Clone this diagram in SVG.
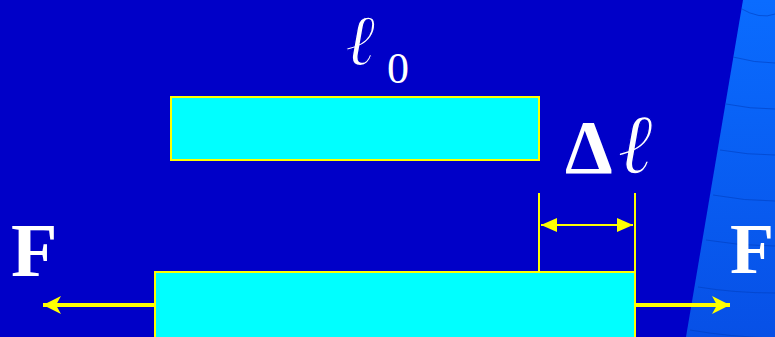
<svg xmlns="http://www.w3.org/2000/svg" width="775" height="337" viewBox="0 0 775 337">
<defs>
<linearGradient id="side" x1="0" y1="0" x2="0" y2="1">
<stop offset="0" stop-color="#0A6CFF"/>
<stop offset="1" stop-color="#0750E6"/>
</linearGradient>
<clipPath id="sideClip"><path d="M743,0 L775,0 L775,337 L686,337 Z"/></clipPath>
<marker id="ah" viewBox="0 0 16 14" refX="16" refY="7" markerWidth="16" markerHeight="14" markerUnits="userSpaceOnUse" orient="auto-start-reverse">
<path d="M0,0 L16,7 L0,14 Z" fill="#FFFF00"/>
</marker>
<marker id="ah2" viewBox="0 0 18 18" refX="18" refY="9" markerWidth="18" markerHeight="18" markerUnits="userSpaceOnUse" orient="auto">
<path d="M0,0 L18,9 L0,18 L5,9 Z" fill="#FFFF00"/>
</marker>
<style>
.bar{fill:#00FFFF;stroke:#FFFF00;stroke-width:2}
.ln{stroke:#FFFF00;stroke-width:2;fill:none}
.arr{stroke:#FFFF00;stroke-width:4;fill:none}
.big{font-family:"Liberation Serif","Times New Roman",serif;fill:#FFFFFF}
.ell{font-family:"Liberation Serif","Times New Roman",serif;font-style:italic;fill:#FFFFFF;stroke:#0000C8;stroke-width:1.3}
.arc{stroke:#0040C0;stroke-width:1;fill:none;opacity:0.6}
</style>
</defs>
<rect width="775" height="337" fill="#0000C8"/>
<g id="side-panel">
<path d="M743,0 L775,0 L775,337 L686,337 Z" fill="url(#side)"/>
<g clip-path="url(#sideClip)">
<path class="arc" d="M740,8 Q760,20 775,14"/>
<path class="arc" d="M733,57 Q755,63 775,63"/>
<path class="arc" d="M726,104 Q750,109 775,109"/>
<path class="arc" d="M720,150 Q748,155 775,155"/>
<path class="arc" d="M713,195 Q745,201 775,201"/>
<path class="arc" d="M706,240 Q740,246 775,246"/>
<path class="arc" d="M698,287 Q735,293 775,293"/>
<path class="arc" d="M690,330 Q730,337 775,338"/>
</g>
</g>
<g id="bar-original">
<rect class="bar" x="171" y="97" width="368" height="63"/>
</g>
<g id="bar-stretched">
<rect class="bar" x="155" y="272" width="480" height="70"/>
</g>
<g id="label-l0">
<text class="ell" x="345" y="65" font-size="72">ℓ</text>
<text class="big" x="387" y="83" font-size="44">0</text>
</g>
<g id="label-dl">
<text class="big" x="565" y="173" font-size="76" font-weight="bold">Δ</text>
<text class="ell" x="617" y="173" font-size="85">ℓ</text>
</g>
<g id="label-F-left">
<text class="big" x="11" y="276" font-size="76" font-weight="bold">F</text>
</g>
<g id="label-F-right">
<text class="big" x="730" y="273" font-size="72" font-weight="bold">F</text>
</g>
<g id="connectors">
<line class="ln" x1="539" y1="193" x2="539" y2="272"/>
<line class="ln" x1="635" y1="193" x2="635" y2="337"/>
<line class="ln" x1="541" y1="225" x2="633" y2="225" marker-start="url(#ah)" marker-end="url(#ah)"/>
<line class="arr" x1="155" y1="305" x2="43" y2="305" marker-end="url(#ah2)"/>
<line class="arr" x1="635" y1="305" x2="730" y2="305" marker-end="url(#ah2)"/>
</g>
</svg>
